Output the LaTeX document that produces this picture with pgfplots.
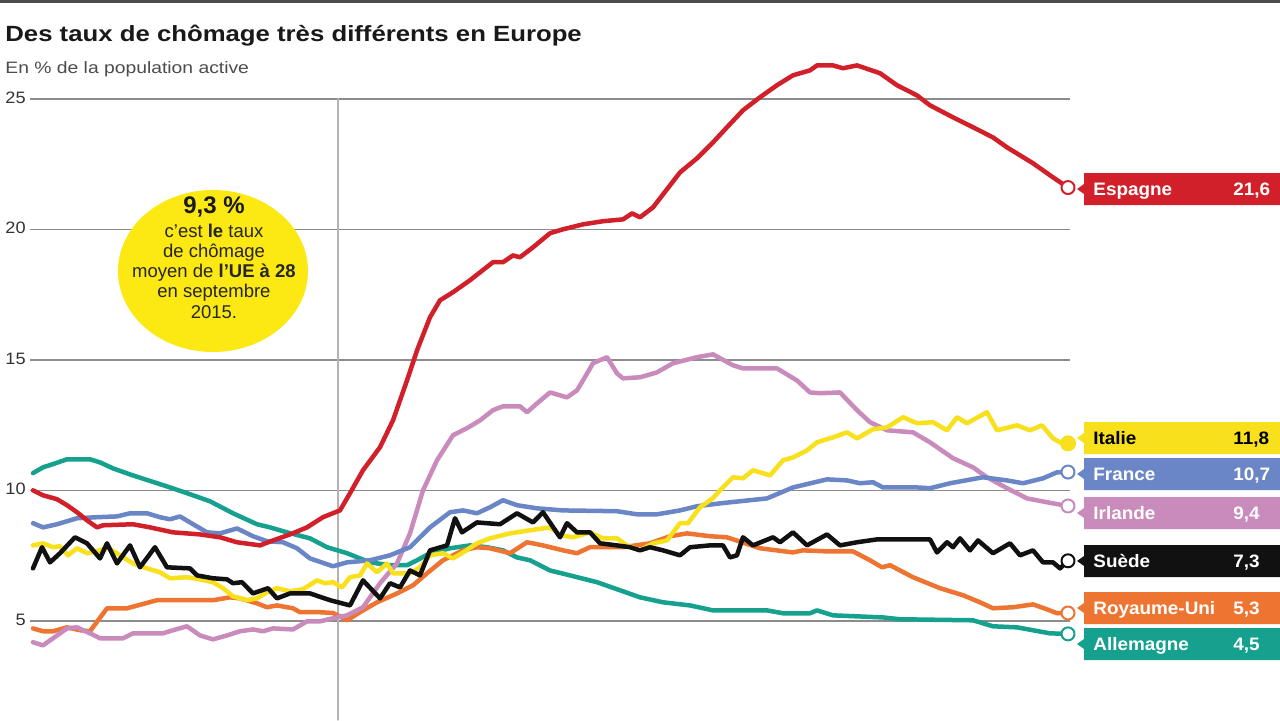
\documentclass[border=0pt]{standalone}
\usepackage{fontspec}
\usepackage{pgfplots}
\pgfplotsset{compat=1.18}
\setmainfont{Liberation Sans}
\newfontfamily\titlef[FakeStretch=1.17]{Liberation Sans}
\newfontfamily\tagf[FakeStretch=1.05]{Liberation Sans}
\newfontfamily\tickf[FakeStretch=1.1]{Liberation Sans}
\definecolor{esp}{RGB}{210,32,43}
\definecolor{ita}{RGB}{248,224,28}
\definecolor{fra}{RGB}{107,134,198}
\definecolor{irl}{RGB}{201,139,187}
\definecolor{sue}{RGB}{17,17,17}
\definecolor{ruk}{RGB}{238,117,49}
\definecolor{deu}{RGB}{22,160,142}
\definecolor{bub}{RGB}{252,232,18}
\newcommand{\countrytag}[5]{%
  \fill[#2] (1084,{720-#1+16}) -- (1280,{720-#1+16}) -- (1280,{720-#1-16}) -- (1084,{720-#1-16}) -- (1084,{720-#1-5}) -- (1077,{720-#1}) -- (1084,{720-#1+5}) -- cycle;
  \node[anchor=base west, inner sep=0pt, text=#5, font=\tagf\bfseries\fontsize{9}{10}\selectfont] at (1093,{720-#1-6.5}) {#3};
  \node[anchor=base west, inner sep=0pt, text=#5, font=\tagf\bfseries\fontsize{9}{10}\selectfont] at (1233,{720-#1-6.5}) {#4};
}
\begin{document}
\begin{tikzpicture}
\fill[white] (0,0) rectangle (640pt,360pt);
\path[use as bounding box] (0,0) rectangle (640pt,360pt);
\begin{axis}[
  at={(15pt,0pt)}, anchor=south west,
  scale only axis, width=520pt, height=336.7pt,
  xmin=30, xmax=1070, ymin=1.2, ymax=27,
  clip=false,
  axis line style={draw=none},
  xtick=\empty,
  ytick={5,10,15,20,25},
  ymajorgrids,
  major grid style={line width=0.75pt, color=black!45},
  major tick length=0pt,
  yticklabel style={font=\tickf\fontsize{8.25}{9}\selectfont, text=black!80, anchor=east, inner sep=0pt, xshift=-2pt, yshift=0.5pt},
  /pgf/number format/assume math mode=true,
  every axis plot/.append style={line width=2.25pt, line join=round, line cap=round},
]
% reference vertical line
\addplot[black!30, line width=0.6pt] coordinates {(338,1.2) (338,25)};
% Allemagne
\addplot[deu] coordinates {(33,10.66) (43,10.88) (55,11.03) (67,11.19) (90,11.19) (100,11.07) (113,10.84) (133,10.57) (167,10.15) (187,9.89) (210,9.58) (233,9.12) (257,8.70) (270,8.58) (287,8.39) (310,8.16) (327,7.82) (347,7.59) (370,7.24) (390,7.13) (407,7.13) (417,7.32) (430,7.59) (450,7.78) (470,7.89) (487,7.82) (503,7.70) (517,7.43) (530,7.32) (550,6.93) (570,6.74) (597,6.48) (620,6.17) (640,5.90) (663,5.71) (690,5.59) (713,5.40) (767,5.40) (783,5.29) (810,5.29) (817,5.40) (833,5.21) (883,5.13) (900,5.06) (973,5.02) (993,4.79) (1017,4.75) (1050,4.52) (1068,4.5)};
% Royaume-Uni
\addplot[ruk] coordinates {(33,4.71) (43,4.60) (53,4.60) (67,4.75) (80,4.64) (90,4.60) (107,5.48) (127,5.48) (157,5.79) (213,5.79) (230,5.90) (240,5.86) (257,5.67) (267,5.52) (277,5.59) (293,5.48) (300,5.33) (320,5.33) (333,5.30) (347,5.02) (360,5.33) (377,5.71) (397,6.05) (413,6.36) (427,6.82) (443,7.32) (463,7.70) (477,7.82) (490,7.78) (510,7.59) (527,8.01) (543,7.89) (563,7.70) (577,7.59) (590,7.82) (623,7.82) (650,7.97) (670,8.24) (687,8.35) (710,8.24) (727,8.20) (760,7.78) (793,7.62) (803,7.70) (827,7.66) (853,7.66) (870,7.32) (882,7.05) (890,7.13) (913,6.67) (940,6.25) (963,5.98) (980,5.71) (993,5.48) (1013,5.52) (1033,5.63) (1047,5.44) (1057,5.29) (1068,5.3)};
% Irlande
\addplot[irl] coordinates {(33,4.18) (43,4.06) (53,4.33) (67,4.71) (77,4.75) (90,4.52) (100,4.33) (123,4.33) (133,4.52) (163,4.52) (173,4.64) (187,4.79) (200,4.44) (213,4.29) (227,4.44) (240,4.60) (253,4.67) (263,4.60) (273,4.71) (293,4.67) (307,4.98) (320,4.98) (333,5.10) (347,5.21) (363,5.52) (380,6.44) (397,7.20) (410,8.35) (423,10.0) (437,11.15) (453,12.11) (467,12.38) (480,12.68) (493,13.07) (503,13.22) (520,13.22) (527,12.99) (537,13.33) (550,13.75) (567,13.56) (577,13.83) (583,14.21) (593,14.87) (607,15.10) (617,14.48) (623,14.29) (640,14.33) (657,14.52) (673,14.87) (697,15.10) (713,15.21) (733,14.79) (743,14.67) (777,14.67) (797,14.21) (810,13.75) (820,13.72) (840,13.75) (857,13.07) (870,12.61) (887,12.30) (913,12.22) (930,11.84) (953,11.23) (973,10.88) (987,10.50) (1007,10.08) (1027,9.69) (1053,9.50) (1068,9.4)};
% France
\addplot[fra] coordinates {(33,8.74) (43,8.58) (57,8.70) (77,8.93) (97,8.97) (117,9.0) (130,9.12) (147,9.12) (160,8.97) (170,8.89) (180,9.0) (190,8.77) (207,8.39) (220,8.35) (237,8.54) (253,8.24) (267,8.05) (283,8.01) (297,7.78) (310,7.39) (333,7.09) (347,7.24) (370,7.32) (390,7.51) (410,7.82) (430,8.58) (450,9.16) (463,9.23) (477,9.12) (490,9.35) (503,9.62) (517,9.43) (537,9.31) (563,9.23) (617,9.20) (637,9.08) (657,9.08) (680,9.23) (697,9.39) (720,9.50) (767,9.69) (793,10.11) (827,10.42) (847,10.38) (860,10.27) (873,10.31) (883,10.11) (917,10.11) (930,10.08) (950,10.27) (983,10.50) (1007,10.38) (1023,10.27) (1043,10.46) (1057,10.69) (1068,10.7)};
% Italie
\addplot[ita] coordinates {(33,7.89) (43,7.97) (53,7.82) (60,7.86) (68,7.51) (77,7.78) (87,7.59) (100,7.70) (107,7.82) (120,7.51) (133,7.20) (147,7.01) (160,6.86) (170,6.63) (187,6.67) (200,6.59) (213,6.48) (223,6.25) (233,5.94) (247,5.79) (257,5.86) (267,6.09) (277,6.25) (290,6.13) (303,6.21) (317,6.55) (325,6.44) (333,6.48) (342,6.28) (350,6.67) (360,6.74) (367,7.20) (377,6.86) (387,7.20) (393,6.82) (410,6.82) (420,7.05) (430,7.51) (443,7.59) (453,7.39) (463,7.62) (477,7.97) (490,8.16) (510,8.35) (530,8.47) (550,8.58) (560,8.28) (573,8.20) (590,8.39) (603,8.16) (617,8.16) (627,7.89) (640,7.70) (653,7.97) (667,8.08) (680,8.74) (688,8.74) (700,9.35) (713,9.70) (720,10.0) (733,10.50) (743,10.46) (753,10.77) (770,10.57) (783,11.15) (793,11.26) (807,11.53) (817,11.84) (833,12.03) (847,12.22) (857,11.99) (873,12.34) (887,12.41) (903,12.80) (917,12.57) (933,12.61) (947,12.30) (957,12.80) (967,12.57) (987,12.99) (997,12.30) (1017,12.49) (1030,12.30) (1042,12.49) (1053,11.99) (1060,11.84) (1068,11.8)};
% Suede
\addplot[sue] coordinates {(33,7.01) (42,7.82) (50,7.24) (60,7.59) (75,8.20) (87,7.97) (100,7.39) (107,7.97) (117,7.20) (130,7.89) (140,7.05) (155,7.82) (167,7.05) (190,7.01) (197,6.74) (213,6.63) (227,6.59) (233,6.44) (242,6.48) (253,6.05) (268,6.25) (277,5.86) (290,6.05) (310,6.05) (330,5.79) (350,5.59) (363,6.55) (380,5.86) (390,6.44) (400,6.28) (410,6.93) (420,6.74) (430,7.70) (447,7.89) (455,8.93) (462,8.39) (477,8.77) (500,8.70) (517,9.12) (533,8.77) (543,9.16) (560,8.20) (567,8.74) (577,8.39) (590,8.39) (600,7.97) (617,7.89) (630,7.82) (640,7.70) (650,7.82) (663,7.70) (680,7.51) (690,7.82) (710,7.89) (723,7.89) (730,7.43) (737,7.51) (743,8.20) (753,7.89) (773,8.20) (780,8.01) (793,8.39) (807,7.89) (827,8.31) (840,7.89) (857,8.01) (877,8.12) (930,8.12) (937,7.62) (947,8.01) (953,7.82) (960,8.16) (970,7.70) (978,8.08) (993,7.59) (1010,7.97) (1020,7.51) (1033,7.70) (1043,7.24) (1053,7.24) (1060,7.01) (1068,7.3)};
% Espagne
\addplot[esp] coordinates {(33,10.0) (43,9.81) (57,9.66) (67,9.43) (77,9.16) (87,8.85) (97,8.58) (103,8.66) (133,8.70) (150,8.58) (173,8.39) (200,8.31) (220,8.20) (237,8.01) (260,7.89) (273,8.08) (290,8.31) (307,8.58) (323,8.97) (340,9.23) (350,9.89) (363,10.77) (380,11.65) (393,12.68) (407,14.21) (417,15.36) (430,16.63) (440,17.28) (453,17.59) (470,18.05) (480,18.35) (493,18.74) (503,18.74) (513,19.0) (520,18.93) (533,19.31) (550,19.85) (563,20.0) (583,20.19) (603,20.31) (623,20.38) (632,20.61) (640,20.46) (653,20.84) (680,22.18) (697,22.72) (713,23.33) (727,23.91) (743,24.56) (760,25.06) (777,25.52) (793,25.90) (810,26.09) (817,26.28) (833,26.28) (843,26.17) (857,26.28) (880,25.98) (897,25.52) (917,25.13) (930,24.75) (953,24.29) (973,23.91) (993,23.52) (1007,23.14) (1033,22.53) (1053,21.99) (1068,21.6)};
% end markers
\addplot[only marks, mark=*, mark size=3.25pt, mark options={fill=white, draw=esp, line width=1pt}] coordinates {(1068,21.6)};
\addplot[only marks, mark=*, mark size=3.5pt, mark options={fill=ita, draw=ita, line width=1pt}] coordinates {(1068,11.8)};
\addplot[only marks, mark=*, mark size=3.25pt, mark options={fill=white, draw=fra, line width=1pt}] coordinates {(1068,10.7)};
\addplot[only marks, mark=*, mark size=3.25pt, mark options={fill=white, draw=irl, line width=1pt}] coordinates {(1068,9.4)};
\addplot[only marks, mark=*, mark size=3.25pt, mark options={fill=white, draw=sue, line width=1pt}] coordinates {(1068,7.3)};
\addplot[only marks, mark=*, mark size=3.25pt, mark options={fill=white, draw=ruk, line width=1pt}] coordinates {(1068,5.3)};
\addplot[only marks, mark=*, mark size=3.25pt, mark options={fill=white, draw=deu, line width=1pt}] coordinates {(1068,4.5)};
\end{axis}
\begin{scope}[x=0.5pt,y=0.5pt]
\fill[black!70] (0,717) rectangle (1280,720);
\node[anchor=base west, inner sep=0pt, text=black!90, font=\titlef\bfseries\fontsize{11}{12}\selectfont] at (5,678.3) {Des taux de chômage très différents en Europe};
\node[anchor=base west, inner sep=0pt, text=black!70, font=\titlef\fontsize{8.25}{9}\selectfont] at (5,647) {En \% de la population active};
% bubble
\fill[bub] (213,449) ellipse [x radius=47.5pt, y radius=40.5pt];
\node[anchor=base, inner sep=0pt, text=black!90, font=\bfseries\fontsize{12}{13}\selectfont] at (214,507) {9,3 \%};
\begin{scope}[every node/.style={anchor=base, inner sep=0pt, text=black!85, font=\fontsize{9.25}{10}\selectfont}]
\node at (214,483) {c’est \textbf{le} taux};
\node at (214,463) {de chômage};
\node at (214,443) {moyen de \textbf{l’UE à 28}};
\node at (214,423) {en septembre};
\node at (214,402) {2015.};
\end{scope}
% tags
\countrytag{189}{esp}{Espagne}{21,6}{white}
\countrytag{438}{ita}{Italie}{11,8}{black}
\countrytag{474}{fra}{France}{10,7}{white}
\countrytag{513}{irl}{Irlande}{9,4}{white}
\countrytag{561}{sue}{Suède}{7,3}{white}
\countrytag{608}{ruk}{Royaume-Uni}{5,3}{white}
\countrytag{644}{deu}{Allemagne}{4,5}{white}
\end{scope}
\end{tikzpicture}
\end{document}
